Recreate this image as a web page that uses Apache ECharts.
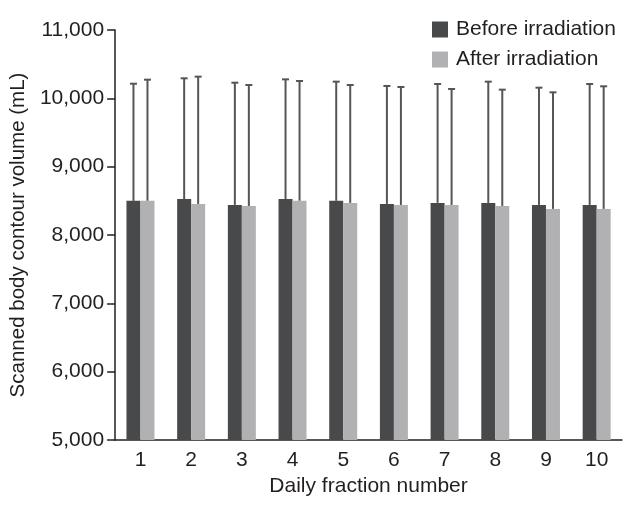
<!DOCTYPE html>
<html><head><meta charset="utf-8">
<script src="https://cdn.jsdelivr.net/npm/echarts@6/dist/echarts.min.js"></script>
<style>html,body{margin:0;padding:0;background:#fff}#c{width:627px;height:505px}</style>
</head><body><div id="c"></div>
<script>
var categories = ['1','2','3','4','5','6','7','8','9','10'];
var beforeMean = [8500, 8527, 8440, 8527, 8500, 8455, 8470, 8470, 8440, 8440];
var afterMean  = [8500, 8455, 8425, 8500, 8470, 8440, 8440, 8425, 8382, 8382];
var beforeUpper = [10214, 10293, 10229, 10278, 10244, 10181, 10210, 10244, 10156, 10210];
var afterUpper  = [10273, 10317, 10195, 10254, 10195, 10166, 10137, 10127, 10088, 10176];
var yTicks = [5000, 6000, 7000, 8000, 9000, 10000, 11000];

var FONT = 'Liberation Sans, Arial, sans-serif';
var DARK = '#48494b', LIGHT = '#b1b1b3', ERR = '#555555', TXT = '#231f20';

function errSeries(means, uppers, offset, name) {
  return {
    type: 'custom', name: name + ' err', silent: true, z: 1,
    data: means.map(function (m, i) { return [i, m, uppers[i]]; }),
    encode: { x: 0, y: [1, 2] },
    renderItem: function (params, api) {
      var i = api.value(0);
      var lo = api.coord([i, api.value(1)]);
      var hi = api.coord([i, api.value(2)]);
      var x = lo[0] + offset;
      var st = { stroke: ERR, lineWidth: 2 };
      return { type: 'group', children: [
        { type: 'line', shape: { x1: x, y1: lo[1], x2: x, y2: hi[1] }, style: st },
        { type: 'line', shape: { x1: x - 3.5, y1: hi[1], x2: x + 3.5, y2: hi[1] }, style: st }
      ]};
    }
  };
}

var chart = echarts.init(document.getElementById('c'), null, { renderer: 'canvas' });
chart.setOption({
  animation: false,
  textStyle: { fontFamily: FONT },
  grid: { left: 108, right: 5, top: 30, bottom: 65, containLabel: false },
  legend: {
    orient: 'vertical', left: 427, top: 14, itemWidth: 16, itemHeight: 16, itemGap: 9,
    icon: 'rect',
    data: ['Before irradiation', 'After irradiation'],
    textStyle: { fontFamily: FONT, fontSize: 21, color: TXT, padding: [0, 0, 0, 3] }
  },
  xAxis: {
    type: 'category', data: categories,
    name: 'Daily fraction number', nameLocation: 'middle', nameGap: 36,
    nameTextStyle: { fontFamily: FONT, fontSize: 21, color: TXT },
    axisLine: { lineStyle: { color: TXT, width: 1.5 } },
    axisTick: { alignWithLabel: true, length: 7, lineStyle: { color: TXT, width: 1.5 } },
    axisLabel: { fontFamily: FONT, fontSize: 21, color: TXT, margin: 10 }
  },
  yAxis: {
    type: 'value', min: yTicks[0], max: yTicks[yTicks.length - 1], interval: 1000,
    name: 'Scanned body contour volume (mL)', nameLocation: 'middle', nameGap: 84,
    nameTextStyle: { fontFamily: FONT, fontSize: 20.5, color: TXT },
    axisLine: { show: true, lineStyle: { color: TXT, width: 1.5 } },
    axisTick: { show: true, length: 8, lineStyle: { color: TXT, width: 1.5 } },
    splitLine: { show: false },
    axisLabel: { fontFamily: FONT, fontSize: 21, color: TXT, margin: 11,
      formatter: function (v) { return v.toLocaleString('en-US'); } }
  },
  series: [
    { type: 'bar', name: 'Before irradiation', data: beforeMean, barWidth: 14, barGap: '0%',
      itemStyle: { color: DARK }, z: 2 },
    { type: 'bar', name: 'After irradiation', data: afterMean, barWidth: 14, barGap: '0%',
      itemStyle: { color: LIGHT }, z: 2 },
    errSeries(beforeMean, beforeUpper, -7, 'Before irradiation'),
    errSeries(afterMean, afterUpper, 7, 'After irradiation')
  ]
});
</script></body></html>
